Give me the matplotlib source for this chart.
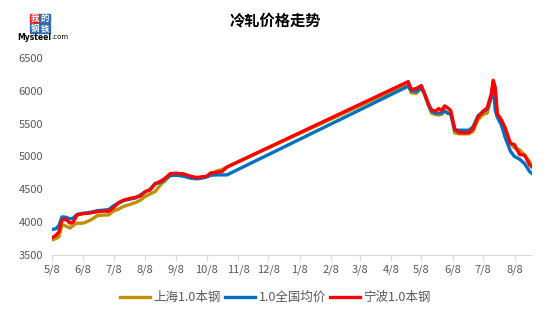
import numpy as np
import pandas as pd
import matplotlib
matplotlib.use('Agg')
import matplotlib.pyplot as plt
from matplotlib.patches import Rectangle

plt.rcParams['font.family'] = ['Noto Sans CJK SC', 'DejaVu Sans']

# 日期（2020年5月至10月，之后数据中断，2021年4月至8月）
dates = ['2020-05-08', '2020-05-12', '2020-05-15', '2020-05-18', '2020-05-22', '2020-05-26',
         '2020-05-29', '2020-06-02', '2020-06-08', '2020-06-15', '2020-06-22', '2020-06-29',
         '2020-07-03', '2020-07-08', '2020-07-13', '2020-07-18', '2020-07-24', '2020-07-30',
         '2020-08-04', '2020-08-08', '2020-08-13', '2020-08-18', '2020-08-24', '2020-08-28',
         '2020-09-02', '2020-09-08', '2020-09-15', '2020-09-22', '2020-09-28', '2020-10-03',
         '2020-10-08', '2020-10-12', '2020-10-18', '2020-10-23', '2020-10-28',
         '2021-04-25', '2021-04-28', '2021-05-03', '2021-05-08', '2021-05-11', '2021-05-15',
         '2021-05-18', '2021-05-22', '2021-05-25', '2021-05-28', '2021-05-31', '2021-06-03',
         '2021-06-06', '2021-06-10', '2021-06-14', '2021-06-20', '2021-06-24', '2021-06-28',
         '2021-07-03', '2021-07-08', '2021-07-12', '2021-07-16', '2021-07-18', '2021-07-20',
         '2021-07-22', '2021-07-26', '2021-07-30', '2021-08-04', '2021-08-08', '2021-08-13',
         '2021-08-18', '2021-08-23', '2021-08-25']

shanghai = [3730, 3750, 3780, 3960, 3940, 3910, 3950, 3985, 3985, 4030, 4100, 4110,
            4110, 4170, 4200, 4240, 4270, 4300, 4340, 4390, 4430, 4465, 4580, 4630,
            4715, 4720, 4710, 4690, 4670, 4680, 4695, 4720, 4780, 4800, 4840,
            6110, 5970, 5960, 6050, 5960, 5790, 5660, 5640, 5630, 5640, 5700, 5660,
            5650, 5360, 5345, 5345, 5345, 5380, 5560, 5640, 5660, 5900, 6140, 6000,
            5640, 5530, 5300, 5200, 5130, 5100, 5020, 4920, 4880]

national = [3890, 3900, 3950, 4080, 4075, 4050, 4060, 4120, 4135, 4150, 4175, 4185,
            4190, 4250, 4290, 4330, 4350, 4370, 4420, 4460, 4500, 4590, 4610, 4660,
            4710, 4715, 4700, 4670, 4660, 4670, 4690, 4715, 4720, 4720, 4720,
            6070, 6000, 5990, 6040, 5960, 5780, 5690, 5660, 5660, 5660, 5690, 5660,
            5650, 5400, 5400, 5400, 5400, 5450, 5620, 5680, 5720, 5900, 6100, 5700,
            5600, 5480, 5280, 5080, 5000, 4960, 4890, 4770, 4745]

ningbo = [3760, 3800, 3850, 4030, 4045, 3985, 4000, 4110, 4130, 4140, 4160, 4170,
          4165, 4220, 4300, 4335, 4360, 4380, 4400, 4465, 4490, 4580, 4630, 4670,
          4740, 4745, 4735, 4700, 4680, 4690, 4700, 4750, 4760, 4770, 4840,
          6140, 6020, 6035, 6080, 5960, 5800, 5710, 5690, 5730, 5700, 5770, 5740,
          5700, 5420, 5365, 5360, 5365, 5420, 5600, 5690, 5740, 5950, 6160, 6050,
          5650, 5560, 5430, 5200, 5180, 5030, 5020, 4870, 4845]

series_names = ['上海1.0本钢', '1.0全国均价', '宁波1.0本钢']
series_colors = ['#BF9000', '#0070C0', '#FF0000']

x = pd.to_datetime(dates)

fig = plt.figure(figsize=(5.51, 3.22), dpi=100)
ax = fig.add_axes([0.094, 0.208, 0.871, 0.612])

for vals, name, col in zip([shanghai, national, ningbo], series_names, series_colors):
    ax.plot(x, vals, color=col, lw=2.4, label=name, solid_joinstyle='round')

ax.set_ylim(3500, 6500)
ax.set_yticks(np.arange(3500, 6501, 500))
ax.set_xlim(pd.Timestamp('2020-05-07 23:00'), pd.Timestamp('2021-08-25'))
ticks = pd.date_range('2020-05-01', '2021-08-01', freq='MS') + pd.Timedelta(days=7)
ax.set_xticks(ticks)
ax.set_xticklabels(['%d/%d' % (t.month, t.day) for t in ticks])

for s in ['top', 'right', 'left']:
    ax.spines[s].set_visible(False)
ax.spines['bottom'].set_color('#D9D9D9')
ax.tick_params(axis='y', length=0, labelsize=8, colors='#595959', pad=6)
ax.tick_params(axis='x', length=4, color='#D9D9D9', labelsize=8, labelcolor='#595959', pad=3)

fig.text(0.5, 0.938, '冷轧价格走势', ha='center', va='center', fontsize=11, fontweight='bold')

# logo
box_cols = [['#E8262B', '#2E6DB4'], ['#2E6DB4', '#2E6DB4']]
chars = [['我', '的'], ['钢', '铁']]
for i in range(2):
    for j in range(2):
        x0 = 30 + j * 10
        y0 = 322 - 13 - (i + 1) * 10
        fig.patches.append(Rectangle((x0 / 551, y0 / 322), 9.5 / 551, 9.5 / 322,
                                     transform=fig.transFigure, color=box_cols[i][j]))
        fig.text((x0 + 4.75) / 551, (y0 + 4.75) / 322, chars[i][j], color='white',
                 fontsize=6, ha='center', va='center', fontweight='bold')
fig.text(51 / 551, 1 - 37 / 322, 'Mysteel', fontsize=5.5, fontweight='bold', va='center',
         ha='right', family='DejaVu Sans')
fig.text(51 / 551, 1 - 37 / 322, '.com', fontsize=5, va='center', ha='left',
         family='DejaVu Sans')

fig.legend(loc='center', bbox_to_anchor=(0.5, 0.075), ncol=3, frameon=False,
           fontsize=9, handlelength=2.4, columnspacing=0.3, handletextpad=0.3,
           labelcolor='#595959')

fig.savefig('out.png', dpi=100)
